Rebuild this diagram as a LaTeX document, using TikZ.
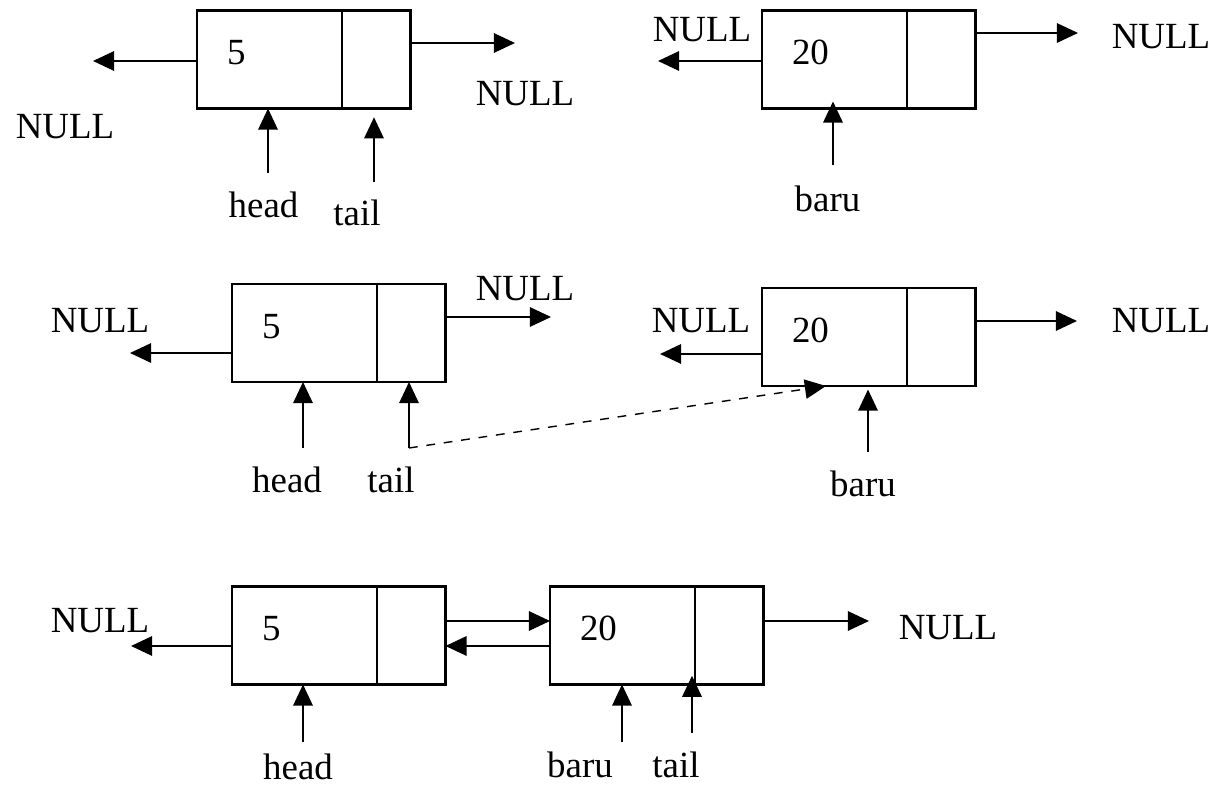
\documentclass[tikz,border=0pt]{standalone}
\usepackage{fontspec}
\setmainfont{Liberation Serif}
\usetikzlibrary{positioning,arrows.meta}

\begin{document}
\begin{tikzpicture}[
  x=0.02cm, y=-0.02cm,
  every node/.style={font=\fontsize{21}{25}\selectfont},
  valcell/.style={draw, line width=1.6pt, outer sep=0pt, minimum width=2.9cm, minimum height=1.96cm,
    inner xsep=0.6cm, inner ysep=0pt, text width=1.7cm, align=left, text depth=8pt},
  nxtcell/.style={draw, line width=1.6pt, outer sep=0pt, minimum width=1.37cm, minimum height=1.96cm, inner sep=0pt},
  ptr/.style={-{Triangle[length=12pt,width=11pt]}, line width=1.2pt},
  link/.style={ptr, dash pattern=on 5pt off 5pt, line width=0.8pt},
  lbl/.style={inner sep=0pt}
]
\useasboundingbox (0,0) rectangle (1211,786);

% Row 1: two separate nodes
\node[valcell] (s1-five) at (269.5,59.5) {5};
\node[nxtcell, right=0pt of s1-five] (s1-five-nxt) {};
\node[valcell] (s1-twenty) at (834.5,59.5) {20};
\node[nxtcell, right=0pt of s1-twenty] (s1-twenty-nxt) {};

\coordinate (s1-nl1) at (93,61);
\coordinate (s1-nr1) at (515,43);
\coordinate (s1-nl2) at (658,61);
\coordinate (s1-nr2) at (1078,33);
\coordinate (s1-hf) at (268,173);
\coordinate (s1-tf) at (374,182);
\coordinate (s1-bf) at (833,165);

\draw[ptr] (s1-five.west |- s1-nl1) -- (s1-nl1);
\draw[ptr] (s1-five-nxt.east |- s1-nr1) -- (s1-nr1);
\draw[ptr] (s1-twenty.west |- s1-nl2) -- (s1-nl2);
\draw[ptr] (s1-twenty-nxt.east |- s1-nr2) -- (s1-nr2);
\draw[ptr] (s1-hf) -- (s1-hf |- s1-five.south);
\draw[ptr, shorten >=5pt] (s1-tf) -- (s1-tf |- s1-five-nxt.south);
\draw[ptr, shorten >=-4pt] (s1-bf) -- (s1-bf |- s1-twenty.south);

\node[lbl] (s1-null1) at (65,127) {NULL};
\node[lbl] (s1-null2) at (525,93.5) {NULL};
\node[lbl] (s1-null3) at (702,29.5) {NULL};
\node[lbl] (s1-null4) at (1161,36.5) {NULL};
\node[lbl] (s1-head) at (263.5,205) {head};
\node[lbl] (s1-tail) at (357,212.5) {tail};
\node[lbl] (s1-baru) at (827.5,198.5) {baru};

% Row 2: tail is moved over to baru
\node[valcell] (s2-five) at (304.5,333) {5};
\node[nxtcell, right=0pt of s2-five] (s2-five-nxt) {};
\node[valcell] (s2-twenty) at (834.5,337) {20};
\node[nxtcell, right=0pt of s2-twenty] (s2-twenty-nxt) {};

\coordinate (s2-nl1) at (130,353);
\coordinate (s2-nr1) at (551,317);
\coordinate (s2-nl2) at (660,354);
\coordinate (s2-nr2) at (1077,321);
\coordinate (s2-hf) at (303,448);
\coordinate (s2-tf) at (409,448);
\coordinate (s2-bf) at (868,452);

\draw[ptr] (s2-five.west |- s2-nl1) -- (s2-nl1);
\draw[ptr] (s2-five-nxt.east |- s2-nr1) -- (s2-nr1);
\draw[ptr] (s2-twenty.west |- s2-nl2) -- (s2-nl2);
\draw[ptr] (s2-twenty-nxt.east |- s2-nr2) -- (s2-nr2);
\draw[ptr] (s2-hf) -- (s2-hf |- s2-five.south);
\draw[ptr] (s2-tf) -- (s2-tf |- s2-five-nxt.south);
\draw[ptr, shorten >=2pt] (s2-bf) -- (s2-bf |- s2-twenty.south);
\draw[link] (s2-tf) -- ([xshift=-0.17cm]s2-twenty.south);

\node[lbl] (s2-null1) at (100,321) {NULL};
\node[lbl] (s2-null2) at (525,289) {NULL};
\node[lbl] (s2-null3) at (701,321) {NULL};
\node[lbl] (s2-null4) at (1161,321) {NULL};
\node[lbl] (s2-head) at (287,480) {head};
\node[lbl] (s2-tail) at (391,480) {tail};
\node[lbl] (s2-baru) at (863,483.5) {baru};

% Row 3: the two nodes linked both ways
\node[valcell] (s3-five) at (304.5,635.5) {5};
\node[nxtcell, right=0pt of s3-five] (s3-five-nxt) {};
\node[valcell] (s3-twenty) at (622.5,635.5) {20};
\node[nxtcell, right=0pt of s3-twenty] (s3-twenty-nxt) {};

\coordinate (s3-nl1) at (131,646);
\coordinate (s3-nr2) at (869,621);
\coordinate (s3-hf) at (303,742);
\coordinate (s3-bf) at (622,742);
\coordinate (s3-tf) at (692,733);

\draw[ptr] (s3-five.west |- s3-nl1) -- (s3-nl1);
\draw[ptr] ([yshift=0.29cm]s3-five-nxt.east) -- ([yshift=0.29cm]s3-twenty.west);
\draw[ptr] ([yshift=-0.21cm]s3-twenty.west) -- ([yshift=-0.21cm]s3-five-nxt.east);
\draw[ptr] (s3-twenty-nxt.east |- s3-nr2) -- (s3-nr2);
\draw[ptr] (s3-hf) -- (s3-hf |- s3-five.south);
\draw[ptr] (s3-bf) -- (s3-bf |- s3-twenty.south);
\draw[ptr, shorten >=-5pt] (s3-tf) -- (s3-tf |- s3-twenty-nxt.south);

\node[lbl] (s3-null1) at (100,621) {NULL};
\node[lbl] (s3-null2) at (948,628) {NULL};
\node[lbl] (s3-head) at (298,767) {head};
\node[lbl] (s3-baru) at (580,765) {baru};
\node[lbl] (s3-tail) at (676,765) {tail};
\end{tikzpicture}
\end{document}
